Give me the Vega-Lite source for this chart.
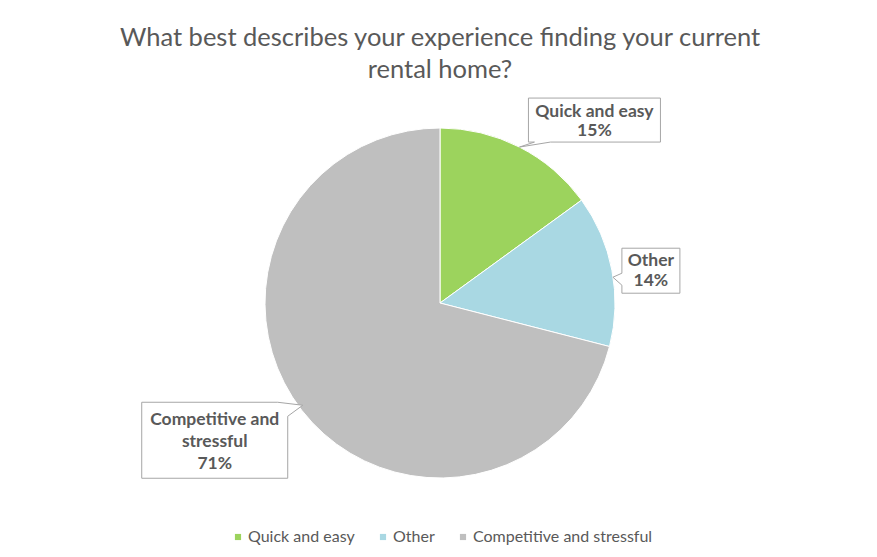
{
  "$schema": "https://vega.github.io/schema/vega-lite/v6.json",
  "width": 874,
  "height": 416,
  "autosize": {"type": "none"},
  "padding": {"left": 3, "top": 95, "right": 0, "bottom": 46},
  "background": "white",
  "title": {
    "text": ["What best describes your experience finding your current", "rental home?"],
    "fontSize": 25.5,
    "font": "Lato",
    "fontWeight": "normal",
    "color": "#595959",
    "anchor": "middle",
    "offset": 12,
    "lineHeight": 32
  },
  "data": {
    "values": [
      {"category": "Quick and easy", "value": 15},
      {"category": "Other", "value": 14},
      {"category": "Competitive and stressful", "value": 71}
    ]
  },
  "transform": [
    {"window": [{"op": "row_number", "as": "idx"}, {"op": "sum", "field": "value", "as": "cum"}]},
    {"joinaggregate": [{"op": "sum", "field": "value", "as": "total"}]},
    {"calculate": "(datum.cum - datum.value / 2) / datum.total * 2 * PI", "as": "mid"},
    {"calculate": "sin(datum.mid)", "as": "ax"},
    {"calculate": "cos(datum.mid)", "as": "ay"}
  ],
  "layer": [
    {
      "mark": {"type": "arc", "radius": 175, "stroke": "white", "strokeWidth": 1},
      "encoding": {
        "theta": {"field": "value", "type": "quantitative", "stack": true},
        "order": {"field": "idx", "type": "quantitative"},
        "color": {
          "field": "category",
          "type": "nominal",
          "scale": {
            "domain": ["Quick and easy", "Other", "Competitive and stressful"],
            "range": ["#9CD35D", "#A9D8E3", "#BFBFBF"]
          },
          "legend": {
            "orient": "none",
            "legendX": 227,
            "legendY": 434,
            "direction": "horizontal",
            "title": null,
            "symbolType": "square",
            "symbolSize": 38,
            "symbolStrokeWidth": 0,
            "labelFontSize": 16,
            "labelColor": "#595959",
            "labelFont": "Lato",
            "labelOffset": 2,
            "labelLimit": 400,
            "columnPadding": 20
          }
        }
      }
    },
    {
      "transform": [{"filter": "datum.category === 'Quick and easy'"}],
      "mark": {"type": "point", "shape": "M9,-49H141V-5H31L0,0L15,-5H9Z", "filled": true, "fill": "white", "stroke": "#A6A6A6", "strokeWidth": 1, "opacity": 1, "size": 4},
      "encoding": {
        "x": {"field": "ax", "type": "quantitative", "scale": {"domain": [-1, 1], "range": [262, 612], "nice": false, "zero": false}, "axis": null},
        "y": {"field": "ay", "type": "quantitative", "scale": {"domain": [-1, 1], "range": [383, 33], "nice": false, "zero": false}, "axis": null}
      }
    },
    {
      "transform": [{"filter": "datum.category === 'Other'"}],
      "mark": {"type": "point", "shape": "M10,-22H68V23H10V15L1,7L10,3Z", "filled": true, "fill": "white", "stroke": "#A6A6A6", "strokeWidth": 1, "opacity": 1, "size": 4},
      "encoding": {
        "x": {"field": "ax", "type": "quantitative"},
        "y": {"field": "ay", "type": "quantitative"}
      }
    },
    {
      "transform": [{"filter": "datum.category === 'Competitive and stressful'"}],
      "mark": {"type": "point", "shape": "M-160,-8H-24L1,-5L-14,6V68H-160Z", "filled": true, "fill": "white", "stroke": "#A6A6A6", "strokeWidth": 1, "opacity": 1, "size": 4},
      "encoding": {
        "x": {"field": "ax", "type": "quantitative"},
        "y": {"field": "ay", "type": "quantitative"}
      }
    },
    {
      "transform": [
        {"filter": "datum.category === 'Quick and easy'"},
        {"calculate": "datum.category + '|' + datum.value + '%'", "as": "label"}
      ],
      "mark": {"type": "text", "lineBreak": "|", "align": "center", "baseline": "middle", "dx": 75, "dy": -35, "font": "Lato", "fontWeight": "bold", "fontSize": 17.5, "lineHeight": 19, "color": "#595959"},
      "encoding": {
        "x": {"field": "ax", "type": "quantitative"},
        "y": {"field": "ay", "type": "quantitative"},
        "text": {"field": "label", "type": "nominal"}
      }
    },
    {
      "transform": [
        {"filter": "datum.category === 'Other'"},
        {"calculate": "datum.category + '|' + datum.value + '%'", "as": "label"}
      ],
      "mark": {"type": "text", "lineBreak": "|", "align": "center", "baseline": "middle", "dx": 39, "dy": -9, "font": "Lato", "fontWeight": "bold", "fontSize": 17.5, "lineHeight": 20, "color": "#595959"},
      "encoding": {
        "x": {"field": "ax", "type": "quantitative"},
        "y": {"field": "ay", "type": "quantitative"},
        "text": {"field": "label", "type": "nominal"}
      }
    },
    {
      "transform": [
        {"filter": "datum.category === 'Competitive and stressful'"},
        {"calculate": "replace(datum.category, 'and ', 'and|') + '|' + datum.value + '%'", "as": "label"}
      ],
      "mark": {"type": "text", "lineBreak": "|", "align": "center", "baseline": "middle", "dx": -87, "dy": 10, "font": "Lato", "fontWeight": "bold", "fontSize": 17.5, "lineHeight": 22, "color": "#595959"},
      "encoding": {
        "x": {"field": "ax", "type": "quantitative"},
        "y": {"field": "ay", "type": "quantitative"},
        "text": {"field": "label", "type": "nominal"}
      }
    }
  ],
  "config": {"view": {"stroke": null}, "font": "Lato"}
}
